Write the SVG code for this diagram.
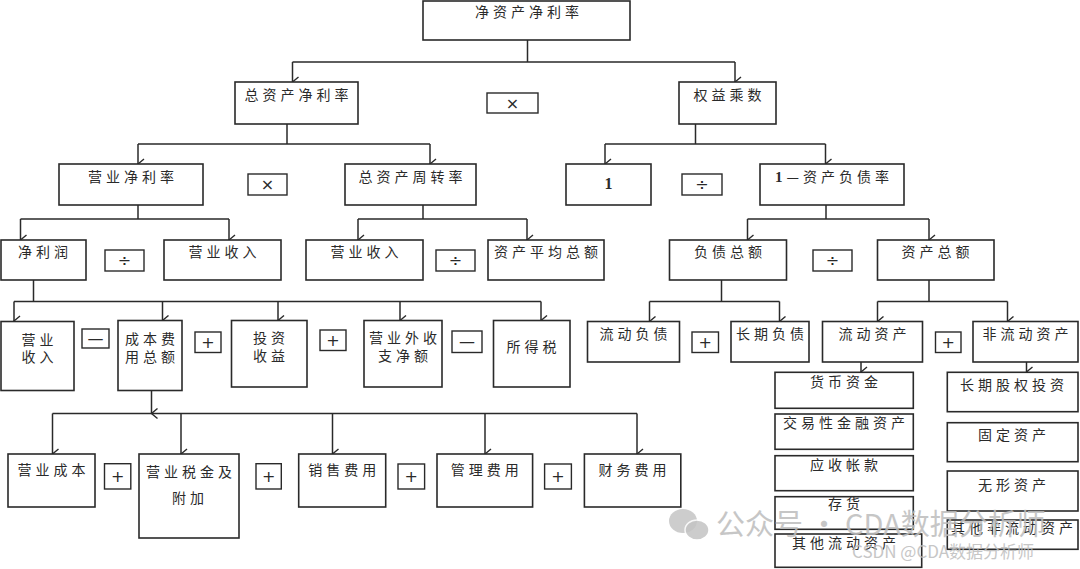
<svg xmlns="http://www.w3.org/2000/svg" width="1080" height="569" viewBox="0 0 1080 569">
<style>
.b{fill:#fff;stroke:#2a2a2a;stroke-width:1.6}
.o{fill:#fff;stroke:#2a2a2a;stroke-width:1.4}
.t{font-family:"Noto Sans CJK SC","Noto Sans CJK JP",sans-serif;font-size:14px;letter-spacing:4px;fill:#2a2a2a;text-anchor:middle}
.s{font-family:"DejaVu Sans","Liberation Sans",sans-serif;font-size:16px;fill:#2a2a2a;text-anchor:middle}
.c{fill:none;stroke:#2a2a2a;stroke-width:1.5}
.w{font-family:"Noto Sans CJK SC",sans-serif;fill:#bdbdbd;opacity:0.85}
</style>
<defs>
<marker id="ar" markerUnits="userSpaceOnUse" markerWidth="12" markerHeight="10" viewBox="0 0 12 10" refX="6" refY="9" orient="auto-start-reverse">
<path d="M1,3 L6,9 L11,3" fill="none" stroke="#2a2a2a" stroke-width="1.4"/>
</marker>
</defs>
<rect width="1080" height="569" fill="#fff"/>

<g id="connectors">
<path class="c" d="M527.5,40 V62 M292.5,62 H735"/>
<path class="c" d="M292.5,62 V82" marker-end="url(#ar)"/>
<path class="c" d="M735,62 V82" marker-end="url(#ar)"/>
<path class="c" d="M287,124 V144 M138,144 H430"/>
<path class="c" d="M138,144 V164" marker-end="url(#ar)"/>
<path class="c" d="M430,144 V164" marker-end="url(#ar)"/>
<path class="c" d="M695.5,124 V144 M605,144 H825.5"/>
<path class="c" d="M605,144 V164" marker-end="url(#ar)"/>
<path class="c" d="M825.5,144 V164" marker-end="url(#ar)"/>
<path class="c" d="M138,205 V219 M20.5,219 H229"/>
<path class="c" d="M20.5,219 V240" marker-end="url(#ar)"/>
<path class="c" d="M229,219 V240" marker-end="url(#ar)"/>
<path class="c" d="M423,205 V219 M358,219 H527"/>
<path class="c" d="M358,219 V240" marker-end="url(#ar)"/>
<path class="c" d="M527,219 V240" marker-end="url(#ar)"/>
<path class="c" d="M826,205 V219 M747.5,219 H929"/>
<path class="c" d="M747.5,219 V240" marker-end="url(#ar)"/>
<path class="c" d="M929,219 V240" marker-end="url(#ar)"/>
<path class="c" d="M33.5,280 V301.5 M14,301.5 H541"/>
<path class="c" d="M14,301.5 V321" marker-end="url(#ar)"/>
<path class="c" d="M162.5,301.5 V320.5" marker-end="url(#ar)"/>
<path class="c" d="M278,301.5 V320.5" marker-end="url(#ar)"/>
<path class="c" d="M400,301.5 V320.5" marker-end="url(#ar)"/>
<path class="c" d="M541,301.5 V320.5" marker-end="url(#ar)"/>
<path class="c" d="M721.5,280 V301.5 M649.5,301.5 H779.5"/>
<path class="c" d="M649.5,301.5 V321.5" marker-end="url(#ar)"/>
<path class="c" d="M779.5,301.5 V321.5" marker-end="url(#ar)"/>
<path class="c" d="M929,280 V301.5 M877.5,301.5 H1007.5"/>
<path class="c" d="M877.5,301.5 V321.5" marker-end="url(#ar)"/>
<path class="c" d="M1007.5,301.5 V321.5" marker-end="url(#ar)"/>
<path class="c" d="M151.5,390.5 V413.5" marker-end="url(#ar)"/>
<path class="c" d="M52.5,413.5 H637"/>
<path class="c" d="M52.5,413.5 V454" marker-end="url(#ar)"/>
<path class="c" d="M181,413.5 V454" marker-end="url(#ar)"/>
<path class="c" d="M332.5,413.5 V454" marker-end="url(#ar)"/>
<path class="c" d="M485,413.5 V454" marker-end="url(#ar)"/>
<path class="c" d="M637,413.5 V454" marker-end="url(#ar)"/>
<path class="c" d="M861,362 V372" marker-end="url(#ar)"/>
<path class="c" d="M1026.5,362 V372" marker-end="url(#ar)"/>
</g>

<g id="n_jzcjll"><rect class="b" x="423" y="1" width="207" height="39"/><text class="t" x="529" y="17">净资产净利率</text></g>
<g id="n_zzcjll"><rect class="b" x="235" y="82" width="123" height="42"/><text class="t" x="298.5" y="100">总资产净利率</text></g>
<g id="op_mul1"><rect class="o" x="487" y="93" width="51" height="20"/><text class="s" x="512.5" y="108.5">×</text></g>
<g id="n_qycs"><rect class="b" x="679" y="82" width="97" height="42"/><text class="t" x="729.5" y="100">权益乘数</text></g>

<g id="n_yyjll"><rect class="b" x="59" y="164" width="144" height="41"/><text class="t" x="133" y="182">营业净利率</text></g>
<g id="op_mul2"><rect class="o" x="248" y="174" width="39" height="21"/><text class="s" x="267.5" y="190">×</text></g>
<g id="n_zzczzl"><rect class="b" x="345" y="164" width="131" height="41"/><text class="t" x="412.5" y="182">总资产周转率</text></g>
<g id="n_one"><rect class="b" x="566" y="164" width="85" height="41"/><text x="608.5" y="189" font-family="Liberation Serif,serif" font-size="16" font-weight="bold" fill="#2a2a2a" text-anchor="middle">1</text></g>
<g id="op_div1"><rect class="o" x="682" y="174" width="40" height="21"/><text class="s" x="702" y="190">÷</text></g>
<g id="n_1fzl"><rect class="b" x="760" y="164" width="144" height="41"/><text class="t" x="834" y="182"><tspan font-family="Liberation Serif,serif" font-size="15" font-weight="bold">1</tspan>—资产负债率</text></g>

<g id="n_jlr"><rect class="b" x="1" y="240" width="85" height="40"/><text class="t" x="45" y="257">净利润</text></g>
<g id="op_div2"><rect class="o" x="105" y="250" width="39" height="21"/><text class="s" x="124.5" y="266">÷</text></g>
<g id="n_yysr1"><rect class="b" x="164" y="240" width="117" height="40"/><text class="t" x="224.5" y="257">营业收入</text></g>
<g id="n_yysr2"><rect class="b" x="306" y="240" width="117" height="40"/><text class="t" x="366.5" y="257">营业收入</text></g>
<g id="op_div3"><rect class="o" x="436" y="250" width="39" height="21"/><text class="s" x="455.5" y="266">÷</text></g>
<g id="n_zcpjze"><rect class="b" x="488" y="240" width="116" height="40"/><text class="t" x="548" y="257">资产平均总额</text></g>
<g id="n_fzze"><rect class="b" x="669.5" y="240" width="117" height="40"/><text class="t" x="730" y="257">负债总额</text></g>
<g id="op_div4"><rect class="o" x="813" y="250" width="39" height="21"/><text class="s" x="832.5" y="266">÷</text></g>
<g id="n_zcze"><rect class="b" x="877.5" y="240" width="116.5" height="40"/><text class="t" x="937.5" y="257">资产总额</text></g>

<g id="n_yysr3"><rect class="b" x="1" y="321.5" width="73" height="69"/><text class="t" x="39.5" y="345">营业</text><text class="t" x="39.5" y="362">收入</text></g>
<g id="op_sub1"><rect class="o" x="82" y="329" width="27" height="19"/><text class="s" x="95.5" y="343.5">—</text></g>
<g id="n_cbfyze"><rect class="b" x="118" y="320.5" width="64" height="70"/><text class="t" x="152" y="344">成本费</text><text class="t" x="152" y="362">用总额</text></g>
<g id="op_add1"><rect class="o" x="195" y="332" width="26" height="20.5"/><text class="s" x="208" y="348">+</text></g>
<g id="n_tzsy"><rect class="b" x="231.5" y="320.5" width="75.5" height="66.5"/><text class="t" x="271" y="343">投资</text><text class="t" x="271" y="361">收益</text></g>
<g id="op_add2"><rect class="o" x="320" y="330" width="26" height="20.5"/><text class="s" x="333" y="346">+</text></g>
<g id="n_yywsz"><rect class="b" x="364" y="320.5" width="78" height="66.5"/><text class="t" x="405" y="343">营业外收</text><text class="t" x="405" y="361">支净额</text></g>
<g id="op_sub2"><rect class="o" x="452" y="331" width="30" height="21.5"/><text class="s" x="467" y="347">—</text></g>
<g id="n_sds"><rect class="b" x="493.5" y="320.5" width="76.5" height="66.5"/><text class="t" x="533.5" y="352">所得税</text></g>
<g id="n_ldfz"><rect class="b" x="587.5" y="321.5" width="92" height="40.5"/><text class="t" x="635.5" y="339">流动负债</text></g>
<g id="op_add3"><rect class="o" x="692" y="332" width="26.5" height="20.5"/><text class="s" x="705.2" y="348">+</text></g>
<g id="n_cqfz"><rect class="b" x="731" y="321.5" width="78" height="40.5"/><text class="t" x="772" y="339">长期负债</text></g>
<g id="n_ldzc"><rect class="b" x="822.5" y="321.5" width="100" height="40.5"/><text class="t" x="874.5" y="339">流动资产</text></g>
<g id="op_add4"><rect class="o" x="935.5" y="332" width="25.5" height="20.5"/><text class="s" x="948.2" y="348">+</text></g>
<g id="n_fldzc"><rect class="b" x="973" y="321.5" width="105" height="40.5"/><text class="t" x="1027.5" y="339">非流动资产</text></g>

<g id="n_yycb"><rect class="b" x="8" y="454" width="87" height="53"/><text class="t" x="53.5" y="475">营业成本</text></g>
<g id="op_add5"><rect class="o" x="104.5" y="463.7" width="26.3" height="25.3"/><text class="s" x="117.7" y="482">+</text></g>
<g id="n_yysj"><rect class="b" x="139" y="454" width="100" height="84"/><text class="t" x="191" y="477">营业税金及</text><text class="t" x="190" y="503">附加</text></g>
<g id="op_add6"><rect class="o" x="256" y="463.7" width="25.3" height="25.3"/><text class="s" x="268.7" y="482">+</text></g>
<g id="n_xsfy"><rect class="b" x="298.7" y="454" width="87" height="53"/><text class="t" x="344.2" y="475">销售费用</text></g>
<g id="op_add7"><rect class="o" x="398" y="464" width="26.6" height="25"/><text class="s" x="411.3" y="482">+</text></g>
<g id="n_glfy"><rect class="b" x="437" y="454" width="95.6" height="53"/><text class="t" x="486.8" y="475">管理费用</text></g>
<g id="op_add8"><rect class="o" x="544.6" y="464" width="26.8" height="25"/><text class="s" x="558" y="482">+</text></g>
<g id="n_cwfy"><rect class="b" x="584.4" y="454" width="96.4" height="53"/><text class="t" x="634.6" y="475">财务费用</text></g>

<g id="n_hbzj"><rect class="b" x="775" y="372.3" width="138.3" height="36"/><text class="t" x="846" y="387">货币资金</text></g>
<g id="n_jyxjrzc"><rect class="b" x="775" y="414" width="138.3" height="35.3"/><text class="t" x="846" y="428">交易性金融资产</text></g>
<g id="n_yszk"><rect class="b" x="775" y="455.7" width="138.3" height="35"/><text class="t" x="846" y="470">应收帐款</text></g>
<g id="n_ch"><rect class="b" x="775" y="496.7" width="138.3" height="32.6"/><text class="t" x="846" y="509">存货</text></g>
<g id="n_qtldzc"><rect class="b" x="775" y="534" width="146.7" height="33.3"/><text class="t" x="846" y="548">其他流动资产</text></g>
<g id="n_cqgqtz"><rect class="b" x="947.3" y="372.3" width="130.7" height="39.4"/><text class="t" x="1014" y="390">长期股权投资</text></g>
<g id="n_gdzc"><rect class="b" x="947.3" y="422.7" width="130.7" height="39"/><text class="t" x="1014" y="440">固定资产</text></g>
<g id="n_wxzc"><rect class="b" x="947.3" y="471" width="130.7" height="40"/><text class="t" x="1014" y="490">无形资产</text></g>
<g id="n_qtfldzc"><rect class="b" x="947.3" y="520" width="130.7" height="29.3"/><text class="t" x="1014" y="533">其他非流动资产</text></g>

<g id="watermark">
<ellipse cx="683" cy="521" rx="14" ry="12" fill="#c4c4c4" opacity="0.85"/>
<ellipse cx="697" cy="530" rx="12" ry="10" fill="#c4c4c4" stroke="#fff" stroke-width="1.5" opacity="0.85"/>
<text class="w" x="716" y="535" font-size="29">公众号 · CDA数据分析师</text>
<text class="w" x="852" y="558" font-size="17">CSDN @CDA数据分析师</text>
</g>
</svg>
